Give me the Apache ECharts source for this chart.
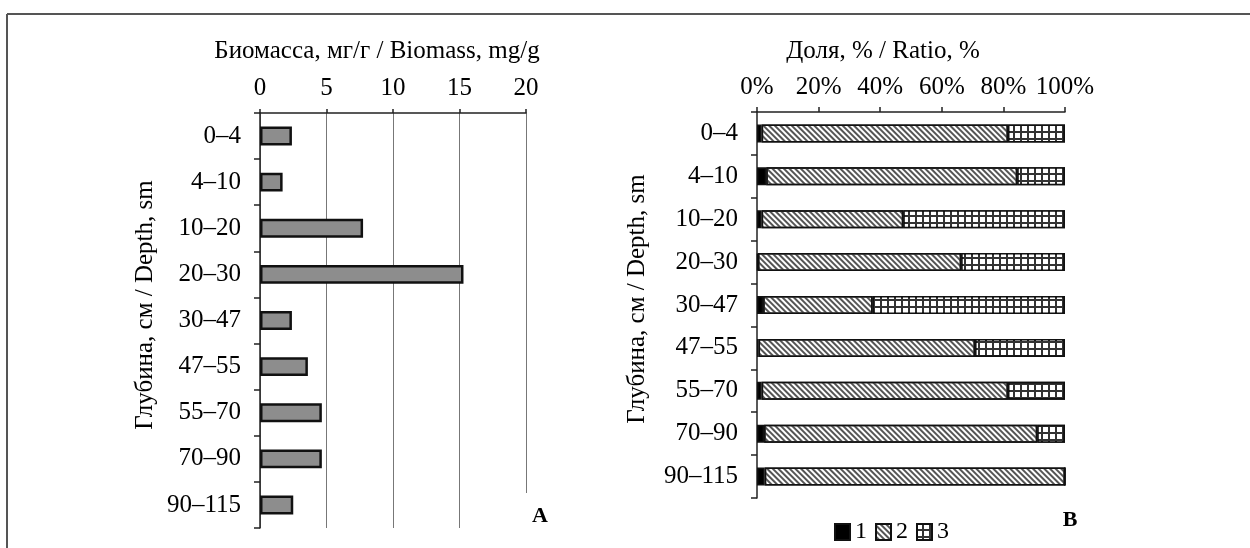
<!DOCTYPE html>
<html>
<head>
<meta charset="utf-8">
<script src="https://cdn.jsdelivr.net/npm/echarts@6/dist/echarts.min.js"></script>
<style>
html,body{margin:0;padding:0;background:#fff;}
#chart{width:1250px;height:548px;}
</style>
</head>
<body>
<div id="chart"></div>
<script>
// ---- data ----
const depths = ['0–4', '4–10', '10–20', '20–30', '30–47', '47–55', '55–70', '70–90', '90–115'];
const biomass = [2.4, 1.7, 7.75, 15.3, 2.4, 3.6, 4.65, 4.65, 2.5];
const share1 = [1.5, 3.0, 1.5, 0.3, 2.0, 0.5, 1.5, 2.3, 2.5];
const share2 = [80.0, 81.5, 46.0, 66.0, 35.5, 70.3, 80.0, 88.7, 97.5];
const share3 = [18.5, 15.5, 52.5, 33.7, 62.5, 29.2, 18.5, 9.0, 0.0];
const seriesNames = ['1', '2', '3'];
const titleA = 'Биомасса, мг/г / Biomass, mg/g';
const titleB = 'Доля, % / Ratio, %';
const titleY = 'Глубина, см / Depth, sm';
const panelLabels = ['A', 'B'];

const FONT = '"Liberation Serif", "Times New Roman", serif';
const FS = 25;

const chart = echarts.init(document.getElementById('chart'), null, {renderer: 'canvas'});

const catAxisCommon = {
  type: 'category',
  data: depths,
  inverse: true,
  axisLine: {show: true, lineStyle: {color: '#222', width: 1.5}},
  axisTick: {show: true, length: 6, lineStyle: {color: '#222', width: 1.5}},
  axisLabel: {fontFamily: FONT, fontSize: FS, color: '#000', margin: 19},
  splitLine: {show: false}
};

const option = {
  animation: false,
  backgroundColor: '#fff',
  grid: [
    {left: 260, right: 724, top: 113, bottom: 20},
    {left: 757, right: 185, top: 112, bottom: 50}
  ],
  xAxis: [
    {
      gridIndex: 0, type: 'value', position: 'top', min: 0, max: 20, interval: 5,
      axisLine: {show: true, lineStyle: {color: '#222', width: 1.5}},
      axisTick: {show: true, length: 4, lineStyle: {color: '#222', width: 1.5}},
      axisLabel: {fontFamily: FONT, fontSize: FS, color: '#000', margin: 12},
      splitLine: {show: true, lineStyle: {color: '#777', width: 1}}
    },
    {
      gridIndex: 1, type: 'value', position: 'top', min: 0, max: 100, interval: 20,
      axisLine: {show: true, lineStyle: {color: '#222', width: 1.5}},
      axisTick: {show: true, length: 5, lineStyle: {color: '#222', width: 1.5}},
      axisLabel: {fontFamily: FONT, fontSize: FS, color: '#000', margin: 12, formatter: '{value}%'},
      splitLine: {show: false}
    }
  ],
  yAxis: [
    Object.assign({gridIndex: 0}, catAxisCommon),
    Object.assign({gridIndex: 1}, catAxisCommon)
  ],
  legend: {
    data: seriesNames,
    left: 829, top: 515,
    itemWidth: 15, itemHeight: 16, itemGap: 8,
    icon: 'rect',
    textStyle: {fontFamily: FONT, fontSize: 24, color: '#000'}
  },
  series: [
    {
      type: 'bar', name: 'biomass', xAxisIndex: 0, yAxisIndex: 0,
      data: biomass, barWidth: '41%',
      itemStyle: {color: '#8d8d8d', borderColor: '#111', borderWidth: 2.5}
    },
    {
      type: 'bar', name: seriesNames[0], xAxisIndex: 1, yAxisIndex: 1, stack: 'r',
      data: share1, barWidth: '42%',
      itemStyle: {color: '#000', borderColor: '#111', borderWidth: 1.5}
    },
    {
      type: 'bar', name: seriesNames[1], xAxisIndex: 1, yAxisIndex: 1, stack: 'r',
      data: share2, barWidth: '42%',
      itemStyle: {
        color: '#fff', borderColor: '#111', borderWidth: 1.5,
        decal: {symbol: 'rect', symbolSize: 1, color: '#555', dashArrayX: [1, 0], dashArrayY: [1.5, 2], rotation: Math.PI / 4}
      }
    },
    {
      type: 'bar', name: seriesNames[2], xAxisIndex: 1, yAxisIndex: 1, stack: 'r',
      data: share3, barWidth: '42%',
      itemStyle: {
        color: '#333', borderColor: '#111', borderWidth: 1.5,
        decal: {symbol: 'rect', symbolSize: 1, color: '#fff', dashArrayX: [4.5, 1.5], dashArrayY: [4.5, 1.5], rotation: 0}
      }
    }
  ],
  graphic: [
    {type: 'line', shape: {x1: 7, y1: 14, x2: 1250, y2: 14}, style: {stroke: '#555', lineWidth: 2}, z: 100},
    {type: 'line', shape: {x1: 7, y1: 14, x2: 7, y2: 548}, style: {stroke: '#555', lineWidth: 2}, z: 100},
    {type: 'text', x: 377, y: 51, z: 100, style: {text: titleA, font: FS + 'px ' + FONT, fill: '#000', textAlign: 'center', textVerticalAlign: 'middle'}},
    {type: 'text', x: 883, y: 51, z: 100, style: {text: titleB, font: FS + 'px ' + FONT, fill: '#000', textAlign: 'center', textVerticalAlign: 'middle'}},
    {type: 'text', x: 145, y: 305, rotation: Math.PI / 2, z: 100, style: {text: titleY, font: FS + 'px ' + FONT, fill: '#000', textAlign: 'center', textVerticalAlign: 'middle'}},
    {type: 'text', x: 637, y: 299, rotation: Math.PI / 2, z: 100, style: {text: titleY, font: FS + 'px ' + FONT, fill: '#000', textAlign: 'center', textVerticalAlign: 'middle'}},
    {type: 'text', x: 540, y: 516, z: 100, style: {text: panelLabels[0], font: 'bold 22px ' + FONT, fill: '#000', textAlign: 'center', textVerticalAlign: 'middle', backgroundColor: '#fff', padding: [12, 14]}},
    {type: 'text', x: 1070, y: 520, z: 100, style: {text: panelLabels[1], font: 'bold 22px ' + FONT, fill: '#000', textAlign: 'center', textVerticalAlign: 'middle'}}
  ]
};
chart.setOption(option);
</script>
</body>
</html>
